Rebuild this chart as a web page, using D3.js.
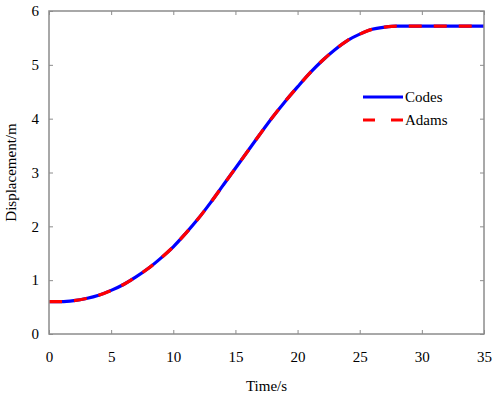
<!DOCTYPE html>
<html><head><meta charset="utf-8">
<script src="https://cdn.jsdelivr.net/npm/d3@7"></script>
<style>body{margin:0;background:#fff}text{font-family:"Liberation Serif","Times New Roman",serif}</style>
</head><body><svg id="c" width="494" height="398"></svg>
<script>
const time = [0,1,2,3,4,5,6,7,8,9,10,11,12,13,14,15,16,17,18,19,20,21,22,23,24,25,26,27,28,29,30,31,32,33,34,35];
const codes = [0.6,0.6,0.62,0.66,0.72,0.81,0.92,1.06,1.22,1.41,1.62,1.87,2.14,2.44,2.76,3.08,3.4,3.72,4.03,4.32,4.59,4.85,5.08,5.28,5.45,5.57,5.66,5.7,5.72,5.72,5.72,5.72,5.72,5.72,5.72,5.72];
const adams = codes.slice();
const xTicks = [0,5,10,15,20,25,30,35];
const yTicks = [0,1,2,3,4,5,6];
const seriesNames = ["Codes","Adams"];

const svg = d3.select("#c");
const L=49,R=484,T=11,B=334;
const x = d3.scaleLinear().domain([0,35]).range([L,R]);
const y = d3.scaleLinear().domain([0,6]).range([B,T]);
const axisColor="#8c8c8c";
const serif='"Liberation Serif","Times New Roman",serif';

const line = d3.line().curve(d3.curveMonotoneX).x((d,i)=>x(time[i])).y(d=>y(d));
svg.append("path").datum(codes).attr("d",line).attr("fill","none").attr("stroke","#0000ff").attr("stroke-width",3.2);
svg.append("path").datum(adams).attr("d",line).attr("fill","none").attr("stroke","#ff0000").attr("stroke-width",3.2).attr("stroke-dasharray","13,12");

function styleAxis(g){
  g.attr("font-family",serif).attr("font-size",15);
  g.select(".domain").remove();
  g.selectAll(".tick line").attr("stroke",axisColor).attr("stroke-width",1);
  g.selectAll(".tick text").attr("fill","#000");
}
svg.append("g").attr("transform",`translate(0,${B})`).call(d3.axisBottom(x).tickValues(xTicks).tickSizeInner(-4).tickSizeOuter(0).tickPadding(17).tickFormat(d3.format("d"))).call(styleAxis);
svg.append("g").attr("transform",`translate(0,${T})`).call(d3.axisTop(x).tickValues(xTicks).tickSizeInner(-4).tickSizeOuter(0).tickFormat("")).call(styleAxis);
svg.append("g").attr("transform",`translate(${L},0)`).call(d3.axisLeft(y).tickValues(yTicks).tickSizeInner(-4).tickSizeOuter(0).tickPadding(10).tickFormat(d3.format("d"))).call(styleAxis);
svg.append("g").attr("transform",`translate(${R},0)`).call(d3.axisRight(y).tickValues(yTicks).tickSizeInner(-4).tickSizeOuter(0).tickFormat("")).call(styleAxis);
svg.append("rect").attr("x",L).attr("y",T).attr("width",R-L).attr("height",B-T).attr("fill","none").attr("stroke",axisColor).attr("stroke-width",1.5);

svg.append("text").attr("x",(L+R)/2).attr("y",391).attr("text-anchor","middle").attr("font-family",serif).style("font-size","15px").text("Time/s");
svg.append("text").attr("transform",`translate(16,${(T+B)/2}) rotate(-90)`).attr("text-anchor","middle").attr("font-family",serif).style("font-size","15px").text("Displacement/m");

const lg = svg.append("g").attr("font-family",serif);
const lgY=[97,120];
lg.append("line").attr("x1",363).attr("x2",403).attr("y1",lgY[0]).attr("y2",lgY[0]).attr("stroke","#0000ff").attr("stroke-width",3.2);
lg.append("line").attr("x1",363).attr("x2",403).attr("y1",lgY[1]).attr("y2",lgY[1]).attr("stroke","#ff0000").attr("stroke-width",3.2).attr("stroke-dasharray","12,16");
seriesNames.forEach((n,i)=>lg.append("text").attr("x",405).attr("y",lgY[i]+5).style("font-size","15px").text(n));
</script></body></html>
